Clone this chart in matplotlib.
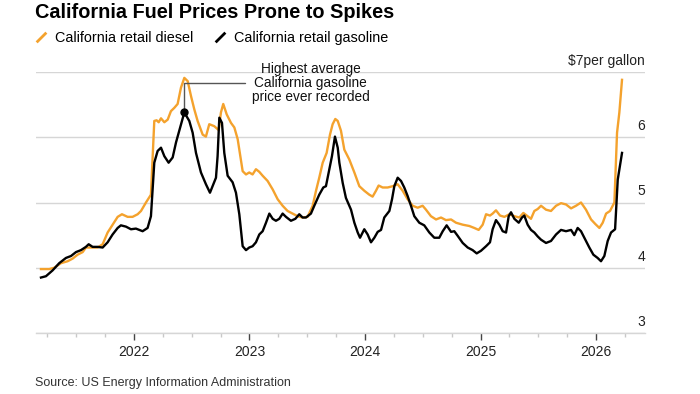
import numpy as np
import matplotlib
matplotlib.use("Agg")
import matplotlib.pyplot as plt
from matplotlib.lines import Line2D
from matplotlib.path import Path

plt.rcParams['font.family'] = ['Liberation Sans', 'DejaVu Sans']

# weekly-ish readings, x in decimal years, $/gallon
gas_t = [2021.195, 2021.238, 2021.296, 2021.353, 2021.411, 2021.455, 2021.498, 2021.541, 2021.584, 2021.608,
         2021.642, 2021.685, 2021.729, 2021.772, 2021.815, 2021.859, 2021.887, 2021.931, 2021.974, 2022.017,
         2022.075, 2022.118, 2022.147, 2022.176, 2022.205, 2022.234, 2022.263, 2022.300, 2022.335, 2022.364,
         2022.392, 2022.436, 2022.479, 2022.508, 2022.537, 2022.580, 2022.623, 2022.658, 2022.687, 2022.710,
         2022.724, 2022.739, 2022.762, 2022.782, 2022.811, 2022.854, 2022.883, 2022.912,
         2022.941, 2022.970, 2022.998, 2023.027, 2023.056, 2023.085, 2023.114, 2023.143, 2023.172, 2023.201,
         2023.229, 2023.258, 2023.287, 2023.316, 2023.359, 2023.397, 2023.431, 2023.460, 2023.489, 2023.532,
         2023.561, 2023.604, 2023.639, 2023.662, 2023.686, 2023.714, 2023.740, 2023.764, 2023.778,
         2023.807, 2023.835, 2023.879, 2023.908, 2023.937, 2023.957, 2023.994, 2024.023, 2024.052, 2024.081,
         2024.110, 2024.139, 2024.167, 2024.211, 2024.234, 2024.254, 2024.283, 2024.312, 2024.340, 2024.369,
         2024.398, 2024.427, 2024.470, 2024.513, 2024.557, 2024.600, 2024.643,
         2024.673, 2024.707, 2024.745, 2024.773, 2024.802, 2024.846, 2024.889, 2024.932, 2024.967, 2025.004,
         2025.048, 2025.082, 2025.105, 2025.134, 2025.163, 2025.192, 2025.221, 2025.244, 2025.264, 2025.293,
         2025.331, 2025.359, 2025.379, 2025.408, 2025.437, 2025.466, 2025.495, 2025.524,
         2025.567, 2025.610, 2025.654, 2025.697, 2025.740, 2025.784, 2025.812, 2025.841, 2025.870, 2025.908,
         2025.942, 2025.977, 2026.014, 2026.043, 2026.072, 2026.101, 2026.130, 2026.165, 2026.188, 2026.225]
gas_price = [3.85, 3.87, 3.96, 4.07, 4.15, 4.18, 4.24, 4.27, 4.32, 4.36,
             4.32, 4.32, 4.31, 4.39, 4.51, 4.61, 4.65, 4.63, 4.59, 4.60,
             4.56, 4.61, 4.79, 5.61, 5.79, 5.84, 5.71, 5.61, 5.69, 5.92,
             6.10, 6.38, 6.25, 6.07, 5.76, 5.46, 5.28, 5.15, 5.28, 5.38,
             5.71, 6.30, 6.22, 5.76, 5.41, 5.31, 5.15, 4.82,
             4.33, 4.27, 4.31, 4.33, 4.39, 4.51, 4.56, 4.69, 4.83, 4.75,
             4.72, 4.75, 4.83, 4.78, 4.72, 4.75, 4.82, 4.77, 4.77, 4.83,
             4.95, 5.12, 5.23, 5.25, 5.46, 5.71, 6.01, 5.84, 5.61,
             5.30, 5.07, 4.89, 4.69, 4.54, 4.46, 4.59, 4.51, 4.39, 4.46,
             4.55, 4.58, 4.77, 4.87, 5.05, 5.25, 5.38, 5.33, 5.23, 5.10,
             4.95, 4.79, 4.69, 4.65, 4.54, 4.46, 4.46,
             4.56, 4.65, 4.55, 4.56, 4.49, 4.38, 4.31, 4.27, 4.22, 4.26,
             4.33, 4.39, 4.59, 4.73, 4.66, 4.56, 4.54, 4.79, 4.85, 4.75,
             4.69, 4.77, 4.80, 4.66, 4.58, 4.54, 4.48, 4.43,
             4.38, 4.41, 4.51, 4.58, 4.56, 4.58, 4.50, 4.61, 4.56, 4.43,
             4.31, 4.20, 4.15, 4.10, 4.18, 4.41, 4.54, 4.59, 5.35, 5.76]

diesel_t = [2021.195, 2021.267, 2021.310, 2021.368, 2021.426, 2021.469, 2021.512, 2021.556, 2021.584, 2021.628,
            2021.685, 2021.729, 2021.772, 2021.815, 2021.859, 2021.896, 2021.945, 2021.988, 2022.032, 2022.061,
            2022.104, 2022.147, 2022.176, 2022.196, 2022.214, 2022.234, 2022.263, 2022.292, 2022.320, 2022.349,
            2022.378, 2022.407, 2022.436, 2022.465, 2022.494, 2022.522, 2022.551, 2022.595, 2022.623, 2022.652,
            2022.695, 2022.733, 2022.753, 2022.773, 2022.803, 2022.840, 2022.869, 2022.898,
            2022.941, 2022.970, 2022.998, 2023.027, 2023.056, 2023.085, 2023.114, 2023.157, 2023.201, 2023.244,
            2023.287, 2023.330, 2023.374, 2023.417, 2023.460, 2023.503, 2023.547, 2023.576, 2023.604, 2023.634,
            2023.668, 2023.697, 2023.720, 2023.743, 2023.764, 2023.792,
            2023.821, 2023.864, 2023.908, 2023.951, 2023.994, 2024.037, 2024.066, 2024.095, 2024.118, 2024.153,
            2024.196, 2024.240, 2024.283, 2024.326, 2024.369, 2024.413, 2024.456, 2024.499, 2024.528, 2024.571,
            2024.615, 2024.658,
            2024.701, 2024.745, 2024.788, 2024.846, 2024.903, 2024.946, 2024.984, 2025.019, 2025.048, 2025.082,
            2025.105, 2025.134, 2025.169, 2025.207, 2025.250, 2025.293, 2025.336, 2025.371, 2025.408, 2025.437,
            2025.466, 2025.495, 2025.524,
            2025.567, 2025.610, 2025.654, 2025.697, 2025.740, 2025.784, 2025.827, 2025.870, 2025.913, 2025.957,
            2025.994, 2026.029, 2026.058, 2026.087, 2026.121, 2026.159, 2026.182, 2026.202, 2026.225]
diesel_price = [3.98, 3.98, 4.00, 4.07, 4.10, 4.14, 4.20, 4.24, 4.31, 4.31,
                4.31, 4.36, 4.54, 4.66, 4.78, 4.82, 4.78, 4.78, 4.82, 4.87,
                5.00, 5.12, 6.25, 6.26, 6.23, 6.29, 6.23, 6.27, 6.40, 6.45,
                6.51, 6.76, 6.91, 6.86, 6.63, 6.43, 6.25, 6.04, 6.01, 6.20,
                6.17, 6.11, 6.38, 6.51, 6.35, 6.22, 6.15, 5.97,
                5.48, 5.43, 5.46, 5.43, 5.51, 5.47, 5.41, 5.33, 5.20, 5.05,
                4.95, 4.87, 4.83, 4.79, 4.77, 4.78, 4.95, 5.18, 5.38, 5.61,
                5.76, 6.04, 6.20, 6.28, 6.25, 6.10,
                5.81, 5.66, 5.46, 5.25, 5.18, 5.12, 5.09, 5.18, 5.26, 5.23,
                5.23, 5.25, 5.28, 5.18, 5.05, 4.95, 4.92, 4.95, 4.89, 4.79,
                4.74, 4.77,
                4.73, 4.74, 4.69, 4.66, 4.64, 4.61, 4.58, 4.66, 4.82, 4.80,
                4.83, 4.88, 4.80, 4.78, 4.82, 4.79, 4.77, 4.84, 4.79, 4.75,
                4.87, 4.90, 4.95,
                4.89, 4.87, 4.95, 4.99, 4.97, 4.91, 4.95, 5.00, 4.89, 4.74,
                4.67, 4.61, 4.69, 4.83, 4.87, 5.00, 6.07, 6.38, 6.88]

years = [2022, 2023, 2024, 2025, 2026]
y_ticks = [3, 4, 5, 6, 7]
y_labels = ["3", "4", "5", "6", "$7per gallon"]

ORANGE = "#F4A22D"
GRID = "#d6d6d6"

fig = plt.figure(figsize=(7, 3.94), dpi=100)
ax = fig.add_axes([36 / 700, 1 - 333 / 394, 609 / 700, 261 / 394])

ax.plot(diesel_t, diesel_price, color=ORANGE, lw=1.7, solid_joinstyle='round')
ax.plot(gas_t, gas_price, color="black", lw=1.7, solid_joinstyle='round')

ax.set_xlim(2021.152, 2026.424)
ax.set_ylim(3, 7)

for s in ["top", "left", "right"]:
    ax.spines[s].set_visible(False)
ax.spines["bottom"].set_color(GRID)
ax.spines["bottom"].set_linewidth(1)

ax.set_yticks(y_ticks)
ax.set_yticklabels([])
ax.tick_params(axis='y', length=0)
ax.grid(axis='y', color=GRID, lw=1)
ax.set_axisbelow(True)
for v, lab in zip(y_ticks, y_labels):
    ax.annotate(lab, xy=(1, v), xycoords=ax.get_yaxis_transform(), xytext=(0, 3),
                textcoords='offset points', ha='right', va='bottom', fontsize=10, color="#222222")

ax.set_xticks(years)
ax.set_xticklabels([str(y) for y in years])
ax.set_xticks(np.arange(2021.25, 2026.5, 0.25), minor=True)
ax.tick_params(axis='x', which='major', length=5, width=1, color="#444444", labelsize=10,
               labelcolor="#222222", pad=4)
ax.tick_params(axis='x', which='minor', length=3, width=1, color="#c8c8c8")

# annotation on the record gasoline price
i = int(np.argmax(gas_price))
ax.plot(gas_t[i], gas_price[i], 'o', color="black", ms=5, zorder=5)
ax.annotate("Highest average\nCalifornia gasoline\nprice ever recorded",
            xy=(gas_t[i], gas_price[i]), xytext=(2023.53, 6.83),
            ha='center', va='center', fontsize=9.8, linespacing=1.02, color="#111111",
            arrowprops=dict(arrowstyle='-', color="#555555", lw=1, shrinkA=3, shrinkB=0,
                            connectionstyle='angle,angleA=0,angleB=90,rad=0'))

fig.text(35 / 700, 1 - 12 / 394, "California Fuel Prices Prone to Spikes", fontsize=14.3,
         fontweight='bold', va='center', ha='left')

slash = Path([(-1, -1), (1, 1)], [Path.MOVETO, Path.LINETO])
handles = [Line2D([], [], color=ORANGE, marker=slash, linestyle='None', ms=7, mew=2),
           Line2D([], [], color="black", marker=slash, linestyle='None', ms=7, mew=2)]
fig.legend(handles, ["California retail diesel", "California retail gasoline"],
           loc='center left', bbox_to_anchor=(28 / 700, 1 - 38 / 394), ncol=2, frameon=False,
           fontsize=10.4, handlelength=1.0, handletextpad=0.5, columnspacing=1.3, borderaxespad=0)

fig.text(35 / 700, 1 - 383 / 394, "Source: US Energy Information Administration",
         fontsize=9, color="#333333", va='center', ha='left')

fig.savefig("out.png", dpi=100)
